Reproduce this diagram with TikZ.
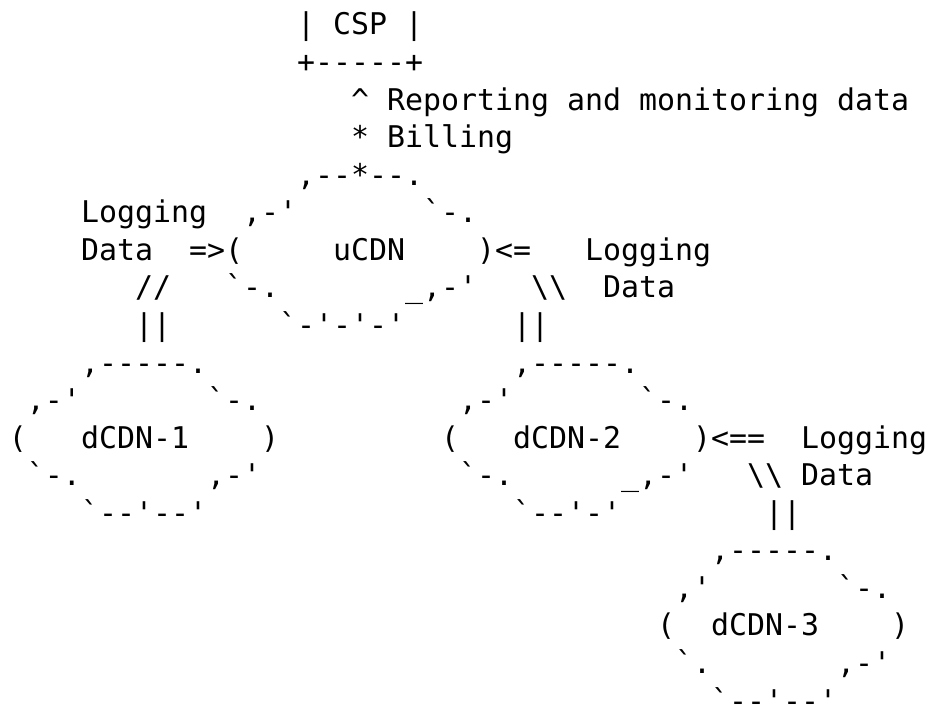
\documentclass[tikz,border=0pt]{standalone}
\usepackage{fontspec}
\setmonofont{DejaVu Sans Mono}
\tikzset{seg/.style={anchor=base west, inner sep=0pt, outer sep=0pt, text=black,
  font=\ttfamily\fontsize{29.9pt}{37.56pt}\selectfont}}
\newcommand\putseg[4]{\node[seg] (#1) at ({(9+18*#2)*1pt},{(673-37.56*#3)*1pt}) {#4};}
\newcommand\bsl{\textbackslash\textbackslash}
\begin{document}
\begin{tikzpicture}
\useasboundingbox (0,0) rectangle (928pt,708pt);
\fill[white] (0,0) rectangle (928pt,708pt);
% CSP box
\putseg{csp}{16}{0}{| CSP |}
\putseg{cspbot}{16}{1}{+-----+}
\putseg{report}{19}{2}{\textasciicircum{} Reporting and monitoring data}
\putseg{billing}{19}{3}{* Billing}
% uCDN
\putseg{utop}{16}{4}{,--*--.}
\putseg{logLa}{4}{5}{Logging}
\putseg{uNW}{13}{5}{,-'}
\putseg{uNE}{23}{5}{`-.}
\putseg{logLb}{4}{6}{Data}
\putseg{uW}{10}{6}{=>(}
\putseg{ucdn}{18}{6}{uCDN}
\putseg{uE}{26}{6}{)<=}
\putseg{logRa}{32}{6}{Logging}
\putseg{lslash}{7}{7}{//}
\putseg{uSW}{12}{7}{`-.}
\putseg{uSE}{22}{7}{\_,-'}
\putseg{rslash}{29}{7}{\bsl}
\putseg{logRb}{33}{7}{Data}
\putseg{lbar}{7}{8}{||}
\putseg{ubot}{15}{8}{`-'-'-'}
\putseg{rbar}{28}{8}{||}
% dCDN-1 and dCDN-2
\putseg{dAtop}{4}{9}{,-----.}
\putseg{dBtop}{28}{9}{,-----.}
\putseg{dANW}{1}{10}{,-'}
\putseg{dANE}{11}{10}{`-.}
\putseg{dBNW}{25}{10}{,-'}
\putseg{dBNE}{35}{10}{`-.}
\putseg{dAW}{0}{11}{(}
\putseg{dA}{4}{11}{dCDN-1}
\putseg{dAE}{14}{11}{)}
\putseg{dBW}{24}{11}{(}
\putseg{dB}{28}{11}{dCDN-2}
\putseg{dBE}{38}{11}{)<==}
\putseg{logDa}{44}{11}{Logging}
\putseg{dASW}{1}{12}{`-.}
\putseg{dASE}{11}{12}{,-'}
\putseg{dBSW}{25}{12}{`-.}
\putseg{dBSE}{34}{12}{\_,-'}
\putseg{dCslash}{41}{12}{\bsl}
\putseg{logDb}{44}{12}{Data}
\putseg{dAbot}{4}{13}{`--'--'}
\putseg{dBbot}{28}{13}{`--'-'}
\putseg{dCbar}{42}{13}{||}
% dCDN-3
\putseg{dCtop}{39}{14}{,-----.}
\putseg{dCNW}{37}{15}{,'}
\putseg{dCNE}{46}{15}{`-.}
\putseg{dCW}{36}{16}{(}
\putseg{dC}{39}{16}{dCDN-3}
\putseg{dCE}{49}{16}{)}
\putseg{dCSW}{37}{17}{`.}
\putseg{dCSE}{46}{17}{,-'}
\putseg{dCbot}{39}{18}{`--'--'}
\end{tikzpicture}
\end{document}
